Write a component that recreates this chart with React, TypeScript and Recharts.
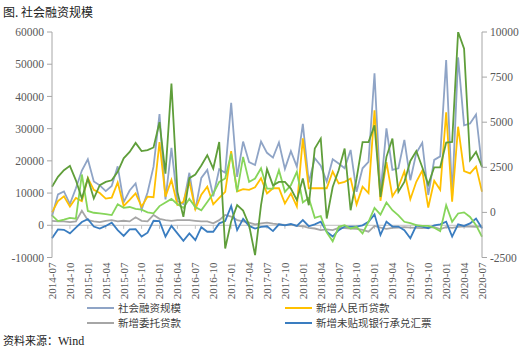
import { LineChart, Line, XAxis, YAxis, ReferenceLine } from "recharts";

const months = [
  "2014-07", "2014-08", "2014-09", "2014-10", "2014-11", "2014-12",
  "2015-01", "2015-02", "2015-03", "2015-04", "2015-05", "2015-06", "2015-07", "2015-08", "2015-09", "2015-10", "2015-11", "2015-12",
  "2016-01", "2016-02", "2016-03", "2016-04", "2016-05", "2016-06", "2016-07", "2016-08", "2016-09", "2016-10", "2016-11", "2016-12",
  "2017-01", "2017-02", "2017-03", "2017-04", "2017-05", "2017-06", "2017-07", "2017-08", "2017-09", "2017-10", "2017-11", "2017-12",
  "2018-01", "2018-02", "2018-03", "2018-04", "2018-05", "2018-06", "2018-07", "2018-08", "2018-09", "2018-10", "2018-11", "2018-12",
  "2019-01", "2019-02", "2019-03", "2019-04", "2019-05", "2019-06", "2019-07", "2019-08", "2019-09", "2019-10", "2019-11", "2019-12",
  "2020-01", "2020-02", "2020-03", "2020-04", "2020-05", "2020-06", "2020-07",
];

// 社会融资规模 (left axis, 亿元)
const tsf = [
  2800, 9600, 10500, 6600, 11500, 17000,
  20500, 13600, 12400, 10600, 12200, 18300, 7200, 10800, 13000, 4800, 10200, 18200,
  34500, 8000, 24000, 7500, 6600, 16300, 4800, 14700, 17200, 9000, 17400, 16300,
  38000, 15000, 26000, 19600, 18700, 26000, 22500, 21000, 25700, 17500, 23000, 18200,
  31500, 13300, 20800, 18500, 13600, 20500, 19200, 17700, 23400, 10400, 17700, 19700,
  47200, 9900, 30100, 17200, 17700, 26500, 14000, 22400, 25600, 9400, 20300, 21400,
  51300, 8900, 52100, 31000, 31600, 34400, 18000,
];

// 新增人民币贷款 (left axis)
const rmbLoans = [
  4000, 7500, 9000, 5800, 8500, 7500,
  14700, 11000, 10000, 8300, 8600, 13300, 6000, 7900, 9900, 5800, 8900, 8700,
  25800, 8900, 14100, 6300, 7300, 13600, 5000, 9500, 12000, 6500, 8500, 10400,
  23000, 10500, 11200, 11000, 11800, 14600, 9900, 11500, 11500, 6800, 9900, 5800,
  27000, 11500, 11500, 11500, 11500, 16700, 13000, 13500, 14500, 6500, 12000, 10000,
  35700, 7600, 19600, 9000, 11900, 16700, 8100, 13500, 17000, 5500, 13800, 11000,
  35100, 7300, 30600, 16800, 16100, 18200, 10400,
];

// 新增委托贷款 (left axis)
const entrusted = [
  1400, 1200, 1200, 1000, 1200, 4500,
  1600, 1200, 1000, 1400, 1600, 1200, 1400, 1200, 2500, 1400, 1200, 3200,
  2000, 1600, 1400, 1600, 1600, 1600, 1400, 1200, 1200, 600, 1600, 3200,
  2700, 1600, 1200, 800, 300, 600, 800, 500, 300, 100, 200, -200,
  -300, -800, -1000, -1500, -1300, -1500, -800, -900, -1000, -1100, -1400, -2000,
  -200, -700, -1100, -800, -700, -600, -700, -800, -900, -700, -600, -1200,
  -600, -800, -500, -300, -400, -500, -300,
];

// 新增未贴现银行承兑汇票 (left axis)
const acceptance = [
  -4000, -1300, -1400, -2500, -700, 1000,
  1900, -400, -1000, -200, 800, -1500, -3300, -1300, -1200, -3500, -2300, 1400,
  1300, -3500, -200, -2500, -4800, -2500, -4600, -600, -2000, -2000, 600, 1300,
  6000, -1500, 2000, -200, -1000, -500, -300, -1800, 300, 0, 400, -200,
  1600, -300, 300, 1100, -2000, -3500, -1500, -400, -400, -400, 0, 1100,
  3400, -3000, 1100, -400, -400, -1500, -4000, -100, -400, -900, 0, 300,
  1100, -3500, 300, -200, 600, 2100, -900,
];

// dark green series (right axis)
const bonds = [
  1420, 1970, 2340, 2580, 1780, 770,
  1880, 770, 1510, 1690, 1780, 2250, 3000, 3350, 3850, 3400, 3450, 3600,
  5000, 2150, 7140, 1140, -250, 1900, 2100, 2600, 3170, 2430, 3900, -2000,
  -500, 400, 100, -700, -2370, 400, 2400, 1500, 1690, 1690, 1320, 680,
  1880, 400, 3540, 4090, -340, 1410, 2340, 3540, 120, 1880, 3900, 3900,
  4830, 860, 3080, 4090, 1140, 1690, 2850, 3400, 2500, 1550, 2500, 2500,
  3870, 3910, 10000, 9080, 2890, 3350, 2520,
];

// light green series (right axis)
const trust = [
  -160, -480, -400, -300, -350, 2100,
  80, -20, -50, -100, -150, 450, 250, 300, 200, 150, 0, -50,
  350, 550, 750, 450, 250, 750, 300, 120, 580, 1050, 1690, 1880,
  3260, 1140, 3080, 1690, 1880, 2450, 1320, 1320, 2340, 1140, 1510, 2250,
  550, 800, -300, -200, -1100, -1600, -800, -710, -890, -800, -1170, -520,
  250, -120, 550, 120, -160, -520, -600, -700, -750, -750, -850, -1040,
  400, -520, -60, 0, -250, -710, -1350,
];

const leftTicks = [-10000, 0, 10000, 20000, 30000, 40000, 50000, 60000];
const rightTicks = [-2500, 0, 2500, 5000, 7500, 10000];

const data = months.map((m, i) => ({
  month: m,
  tsf: tsf[i],
  rmbLoans: rmbLoans[i],
  entrusted: entrusted[i],
  acceptance: acceptance[i],
  bonds: bonds[i],
  trust: trust[i],
}));

const tickMonths = months.filter((_, i) => i % 3 === 0);

const C = {
  tsf: "#8fa4c6",
  rmb: "#ffc000",
  ent: "#a6a6a6",
  acc: "#3a7dc0",
  dark: "#5f9e3a",
  light: "#86d55a",
  axis: "#a6a6a6",
  text: "#595959",
};

const serif = "'Liberation Serif', 'Times New Roman', serif";
const cjk = "'Noto Sans CJK SC', sans-serif";

function MonthTick({ x, y, payload }: any) {
  return (
    <text
      x={x}
      y={y}
      transform={`rotate(-90 ${x} ${y})`}
      textAnchor="end"
      dy="0.35em"
      fontSize={11}
      fontFamily={serif}
      fill={C.text}
    >
      {payload.value}
    </text>
  );
}

// legend rows, placed as in the source figure
const legendItems = [
  { name: "社会融资规模", color: C.tsf, left: 87, top: 307.5 },
  { name: "新增人民币贷款", color: C.rmb, left: 285, top: 307.5 },
  { name: "新增委托贷款", color: C.ent, left: 87, top: 322.5 },
  { name: "新增未贴现银行承兑汇票", color: C.acc, left: 285, top: 322.5 },
];

export default function App() {
  return (
    <div style={{ position: "absolute", left: 0, top: 0, width: 521, height: 351, background: "#fff" }}>
      <div style={{ position: "absolute", left: 3, top: 5, fontSize: 12, lineHeight: "14px", fontFamily: cjk, color: "#222", whiteSpace: "nowrap" }}>
        图. 社会融资规模
      </div>
      <LineChart width={521} height={351} data={data} margin={{ top: 32, right: 0, bottom: 0, left: 2 }}>
        <XAxis
          dataKey="month"
          interval={2}
          height={93.5}
          axisLine={false}
          tickLine={false}
          tickSize={4}
          tickMargin={1}
          tick={<MonthTick />}
        />
        <YAxis
          yAxisId="left"
          domain={[-10000, 60000]}
          ticks={leftTicks}
          width={50}
          stroke={C.axis}
          tickSize={5}
          tickMargin={3}
          tick={{ fontSize: 11.5, fontFamily: serif, fill: C.text }}
          allowDataOverflow
        />
        <YAxis
          yAxisId="right"
          orientation="right"
          domain={[-2500, 10000]}
          ticks={rightTicks}
          width={39}
          stroke={C.axis}
          tickSize={5}
          tickMargin={3}
          tick={{ fontSize: 11.5, fontFamily: serif, fill: C.text, textAnchor: "start" }}
          allowDataOverflow
        />
        <ReferenceLine yAxisId="left" y={0} stroke="#bfbfbf" strokeWidth={1} />
        {tickMonths.map((m) => (
          <ReferenceLine
            key={m}
            yAxisId="left"
            segment={[{ x: m, y: 0 }, { x: m, y: -1100 }]}
            stroke="#bfbfbf"
          />
        ))}
        <Line yAxisId="left" dataKey="tsf" stroke={C.tsf} strokeWidth={1.8} dot={false} isAnimationActive={false} />
        <Line yAxisId="left" dataKey="rmbLoans" stroke={C.rmb} strokeWidth={1.8} dot={false} isAnimationActive={false} />
        <Line yAxisId="left" dataKey="entrusted" stroke={C.ent} strokeWidth={1.8} dot={false} isAnimationActive={false} />
        <Line yAxisId="left" dataKey="acceptance" stroke={C.acc} strokeWidth={1.8} dot={false} isAnimationActive={false} />
        <Line yAxisId="right" dataKey="trust" stroke={C.light} strokeWidth={1.8} dot={false} isAnimationActive={false} />
        <Line yAxisId="right" dataKey="bonds" stroke={C.dark} strokeWidth={1.8} dot={false} isAnimationActive={false} />
      </LineChart>
      {legendItems.map((it) => (
        <div
          key={it.name}
          style={{ position: "absolute", left: it.left, top: it.top - 6, height: 12, display: "flex", alignItems: "center", whiteSpace: "nowrap" }}
        >
          <div style={{ width: 27, height: 2, background: it.color, marginRight: 4 }} />
          <span style={{ fontSize: 10.5, lineHeight: "12px", fontFamily: cjk, color: "#404040" }}>{it.name}</span>
        </div>
      ))}
      <div style={{ position: "absolute", left: 3, top: 333, fontSize: 11, lineHeight: "14px", color: "#222", whiteSpace: "nowrap" }}>
        <span style={{ fontFamily: cjk }}>资料来源：</span>
        <span style={{ fontFamily: serif, fontSize: 12 }}>Wind</span>
      </div>
    </div>
  );
}
